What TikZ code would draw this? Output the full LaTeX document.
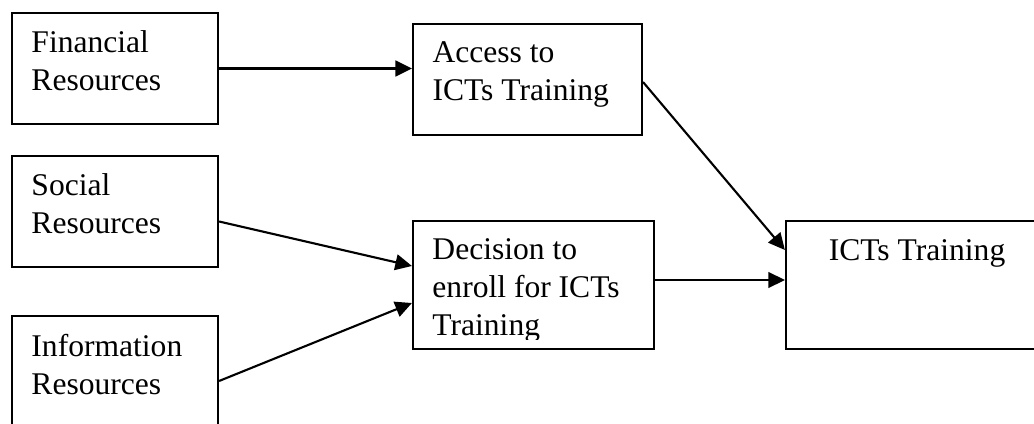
\documentclass[tikz,border=0pt]{standalone}
\usepackage{fontspec}
\setmainfont{Liberation Serif}
\usetikzlibrary{arrows.meta}

\begin{document}
\begin{tikzpicture}[x=0.38pt, y=-0.38pt,
        box/.style={draw, line width=0.8pt, inner sep=0pt, minimum width=78.3pt, minimum height=42.2pt},
        lbl/.style={anchor=north west, inner sep=0pt, align=left, font=\fontsize{12}{14.4}\selectfont},
        arr/.style={-{Triangle[length=6.3pt, width=6pt]}, line width=0.8pt}]
        \useasboundingbox (0, 0) rectangle (1034, 424);
        \clip (0, 0) rectangle (1034, 424);

        \node[box] (fin) at (115, 68.5) {};
        \node[box] (soc) at (115, 211.5) {};
        \node[box] (inf) at (115, 371.5) {};
        \node[box, minimum width=87pt] (acc) at (527.5, 79.5) {};
        \node[box, minimum width=91.6pt, minimum height=48.6pt] (dec) at (533.5, 285) {};
        \node[box, minimum width=99.6pt, minimum height=48.6pt] (ict) at (917, 285) {};

        \node[lbl] (finT) at ([shift={(20, 18.5)}]fin.north west) {Financial\\Resources};
        \node[lbl] (socT) at ([shift={(20, 18.5)}]soc.north west) {Social\\Resources};
        \node[lbl] (infT) at ([shift={(20, 18.5)}]inf.north west) {Information\\Resources};
        \node[lbl] (accT) at ([shift={(20, 18.5)}]acc.north west) {Access to\\ICTs Training};
        \begin{scope}
            \clip (dec.north west) rectangle ([shift={(0, -11)}]dec.south east);
            \node[lbl] (decT) at ([shift={(20, 18.5)}]dec.north west) {Decision to\\enroll for ICTs\\Training};
        \end{scope}
        \node[lbl, anchor=north] (ictT) at ([shift={(0, 19.5)}]ict.north) {ICTs Training};

        \coordinate (decOut) at ([shift={(0, -5)}]dec.east);
        \draw[arr] (fin.east) -- (fin.east -| acc.west);
        \draw[arr] ([shift={(0, 10)}]soc.east) -- ([shift={(0, -19)}]dec.west);
        \draw[arr] ([shift={(0, 9.5)}]inf.east) -- ([shift={(0, 18)}]dec.west);
        \draw[arr] ([shift={(0, 2.5)}]acc.east) -- ([shift={(0, -35)}]ict.west);
        \draw[arr] (decOut) -- (decOut -| ict.west);

    \end{tikzpicture}
\end{document}
